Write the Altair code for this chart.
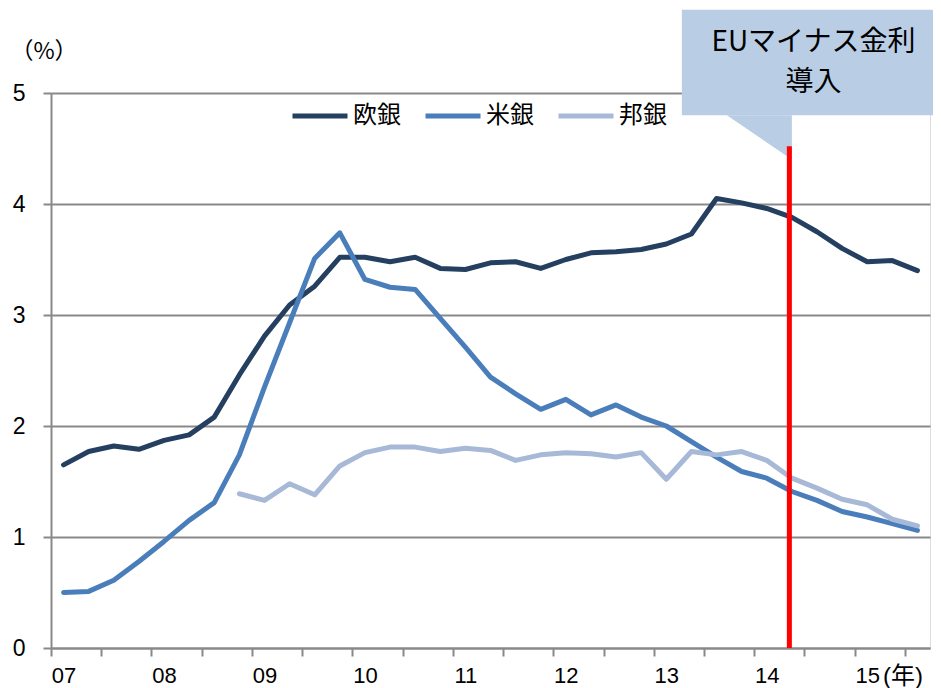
import altair as alt
import pandas as pd

# ---- data (quarterly, 2007Q1 .. 2015Q3) ----
quarter_index = list(range(35))
year_labels = ["07", "08", "09", "10", "11", "12", "13", "14", "15"]
series_names = ["欧銀", "米銀", "邦銀"]
series_colors = ["#243F60", "#4A7EBB", "#A7B9D7"]

eu_banks = [1.65, 1.77, 1.82, 1.79, 1.87, 1.92, 2.08, 2.46, 2.81, 3.09,
            3.26, 3.52, 3.52, 3.48, 3.52, 3.42, 3.41, 3.47, 3.48, 3.42,
            3.50, 3.56, 3.57, 3.59, 3.64, 3.73, 4.05, 4.01, 3.96, 3.88,
            3.75, 3.60, 3.48, 3.49, 3.40]
us_banks = [0.50, 0.51, 0.61, 0.78, 0.96, 1.15, 1.31, 1.74, 2.35, 2.93,
            3.51, 3.74, 3.32, 3.25, 3.23, 2.97, 2.71, 2.44, 2.29, 2.15,
            2.24, 2.10, 2.19, 2.08, 2.00, 1.86, 1.72, 1.59, 1.53, 1.41,
            1.33, 1.23, 1.18, 1.12, 1.06]
jp_banks = [None] * 7 + [1.39, 1.33, 1.48, 1.38, 1.64, 1.76, 1.81, 1.81,
                         1.77, 1.80, 1.78, 1.69, 1.74, 1.76, 1.75, 1.72,
                         1.76, 1.52, 1.77, 1.74, 1.77, 1.69, 1.53, 1.44,
                         1.34, 1.29, 1.16, 1.10]

# event: EU negative rate (2014Q2)
event_x = [28.9]
event_y = [0.0]
event_y2 = [4.52]
callout_lines = ["EUマイナス金利", "導入"]

rows = []
for name, vals in zip(series_names, [eu_banks, us_banks, jp_banks]):
    for q, v in zip(quarter_index, vals):
        if v is not None:
            rows.append({"q": q, "value": v, "series": name})
df = pd.DataFrame(rows)

W, H = 879, 555
n_q = len(quarter_index)
half_cat = W / n_q / 2

num_font = "Liberation Sans"
jp_font = "Noto Sans CJK JP"
gray = "#898989"

tick_values = [k - 0.5 for k in range(n_q + 1)]
arr = "[" + ",".join("'%s'" % s for s in year_labels) + "]"
label_expr = ("(datum.value + 0.5) % 4 == 0 && (datum.value + 0.5) / 4 < {n} ? "
              "{arr}[(datum.value + 0.5) / 4] : ''").format(n=len(year_labels), arr=arr)

x_scale = alt.Scale(domain=[-0.5, n_q - 0.5], nice=False, zero=False)
y_scale = alt.Scale(domain=[0, 5], nice=False)

x_axis = alt.Axis(values=tick_values, labelExpr=label_expr, grid=False,
                  domainColor=gray, domainWidth=2, tickColor=gray, tickWidth=2,
                  tickSize=8, labelFontSize=22, labelFont=num_font,
                  labelColor="black", labelPadding=9, labelOffset=half_cat,
                  labelOverlap=False, labelFlush=False, title=None)
y_axis = alt.Axis(values=[0, 1, 2, 3, 4, 5], format="d", grid=True, gridColor=gray,
                  gridWidth=2, domainColor=gray, domainWidth=2, tickColor=gray,
                  tickWidth=2, tickSize=8, labelFontSize=23, labelFont=num_font,
                  labelColor="black", labelPadding=18, title=None)

lines = alt.Chart(df).mark_line(strokeWidth=5, strokeCap="round",
                                strokeJoin="round").encode(
    x=alt.X("q:Q", scale=x_scale, axis=x_axis),
    y=alt.Y("value:Q", scale=y_scale, axis=y_axis),
    color=alt.Color("series:N",
                    scale=alt.Scale(domain=series_names, range=series_colors),
                    sort=series_names,
                    legend=alt.Legend(orient="none", legendX=239, legendY=-7,
                                      direction="horizontal", title=None,
                                      symbolType="stroke", symbolSize=3025,
                                      symbolStrokeWidth=5,
                                      labelFontSize=24, labelFont=jp_font,
                                      labelColor="black", labelOffset=3,
                                      columnPadding=14)),
)

# callout box and pointer (in data coordinates)
box_df = pd.DataFrame({"x": [24.62], "x2": [34.93], "y": [5.75], "y2": [4.80]})
box = alt.Chart(box_df).mark_rect(color="#B9CDE5").encode(
    x=alt.X("x:Q", scale=x_scale), x2="x2:Q",
    y=alt.Y("y:Q", scale=y_scale), y2="y2:Q")

ptr_df = pd.DataFrame({"x": [26.41, 29.0], "top": [4.80, 4.80], "bottom": [4.80, 4.40]})
pointer = alt.Chart(ptr_df).mark_area(color="#B9CDE5", opacity=1).encode(
    x=alt.X("x:Q", scale=x_scale), y=alt.Y("top:Q", scale=y_scale), y2="bottom:Q")

txt_df = pd.DataFrame({"x": [29.86, 29.86], "y": [5.45, 5.09], "t": callout_lines})
callout_text = alt.Chart(txt_df).mark_text(font=jp_font, fontSize=28, color="black",
                                           align="center", baseline="middle").encode(
    x=alt.X("x:Q", scale=x_scale), y=alt.Y("y:Q", scale=y_scale), text="t:N")

ev_df = pd.DataFrame({"x": event_x, "y": event_y, "y2": event_y2})
event_rule = alt.Chart(ev_df).mark_rule(color="#FF0000", strokeWidth=5).encode(
    x=alt.X("x:Q", scale=x_scale), y=alt.Y("y:Q", scale=y_scale), y2="y2:Q")

unit_y = alt.Chart(pd.DataFrame({"t": ["（%）"]})).mark_text(
    font=jp_font, fontSize=23, color="black", align="center", baseline="middle"
).encode(x=alt.value(-7), y=alt.value(-41), text="t:N")
unit_x = alt.Chart(pd.DataFrame({"t": ["(年)"]})).mark_text(
    font="Liberation Sans, Noto Sans CJK JP", fontSize=24, color="black",
    align="left", baseline="middle"
).encode(x=alt.value(832), y=alt.value(584), text="t:N")

chart = alt.layer(lines, box, pointer, callout_text, event_rule, unit_y, unit_x).properties(
    width=W, height=H,
    autosize=alt.AutoSizeParams(type="none"),
    padding={"left": 43, "top": 85, "right": 3, "bottom": 40},
).configure_view(stroke=None).configure(background="white")

chart.save("out.html", embed_options={"renderer": "svg", "actions": False})
